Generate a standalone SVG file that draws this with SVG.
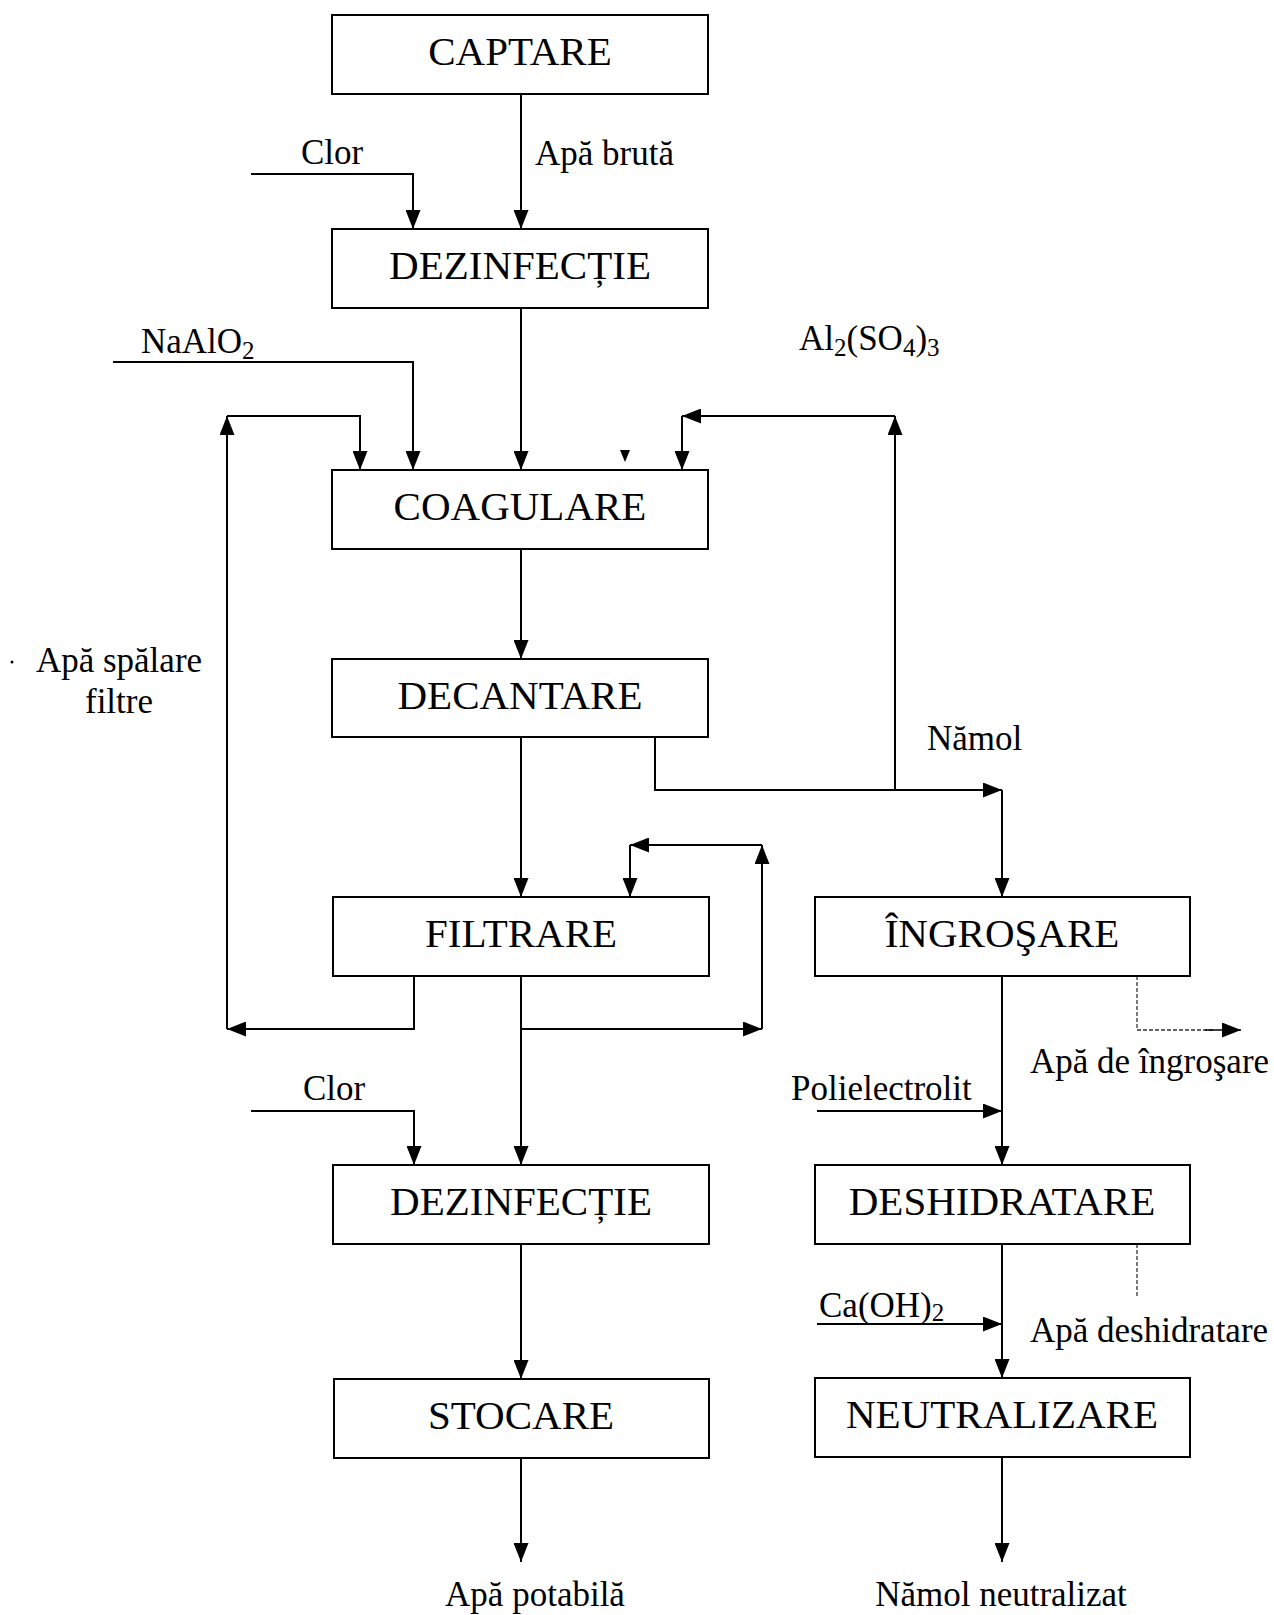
<svg xmlns="http://www.w3.org/2000/svg" width="1274" height="1615" viewBox="0 0 1274 1615">
<defs>
<marker id="ah" markerUnits="userSpaceOnUse" markerWidth="19" markerHeight="15" refX="19" refY="7.5" orient="auto">
<path d="M0,0 L19,7.5 L0,15 z" fill="#000"/>
</marker>
<style>
.box{fill:#fff;stroke:#000;stroke-width:2}
.nt{font-family:"Liberation Serif","Times New Roman",serif;font-size:41px;text-anchor:middle;fill:#000}
.lt{font-family:"Liberation Serif","Times New Roman",serif;font-size:35px;fill:#000}
.c{fill:none;stroke:#000;stroke-width:2}
.a{marker-end:url(#ah)}
.d{fill:none;stroke:#333;stroke-width:1.3;stroke-dasharray:4,2}
</style>
</defs>
<rect width="1274" height="1615" fill="#fff"/>
<g id="connectors">
<line class="c a" x1="521" y1="94" x2="521" y2="229"/>
<polyline class="c a" points="251,174 413,174 413,229"/>
<line class="c a" x1="521" y1="308" x2="521" y2="470"/>
<polyline class="c a" points="113,362 413,362 413,470"/>
<polyline class="c a" points="414,976 414,1029 227,1029"/>
<line class="c a" x1="227" y1="1029" x2="227" y2="416"/>
<polyline class="c a" points="227,416 360,416 360,470"/>
<line class="c a" x1="521" y1="549" x2="521" y2="659"/>
<line class="c a" x1="521" y1="737" x2="521" y2="897"/>
<polyline class="c a" points="655,737 655,790 1002,790"/>
<line class="c a" x1="1002" y1="790" x2="1002" y2="897"/>
<line class="c a" x1="895" y1="790" x2="895" y2="416"/>
<line class="c a" x1="895" y1="416" x2="682" y2="416"/>
<line class="c a" x1="682" y1="416" x2="682" y2="470"/>
<polygon points="620,450 630,450 625,462" fill="#000"/>
<line class="c a" x1="521" y1="1029" x2="762" y2="1029"/>
<line class="c a" x1="762" y1="1029" x2="762" y2="845"/>
<line class="c a" x1="762" y1="845" x2="630" y2="845"/>
<line class="c a" x1="630" y1="845" x2="630" y2="897"/>
<line class="c a" x1="521" y1="976" x2="521" y2="1165"/>
<polyline class="c a" points="251,1111 414,1111 414,1165"/>
<line class="c a" x1="521" y1="1244" x2="521" y2="1379"/>
<line class="c a" x1="521" y1="1458" x2="521" y2="1562"/>
<line class="c a" x1="1002" y1="976" x2="1002" y2="1165"/>
<line class="c a" x1="817" y1="1111" x2="1002" y2="1111"/>
<line class="c a" x1="1002" y1="1244" x2="1002" y2="1378"/>
<line class="c a" x1="817" y1="1324" x2="1002" y2="1324"/>
<line class="c a" x1="1002" y1="1457" x2="1002" y2="1562"/>
<polyline class="d" points="1137,976 1137,1030 1215,1030"/>
<line class="c a" x1="1205" y1="1030" x2="1241" y2="1030" style="stroke-width:1.3"/>
<line class="d" x1="1137" y1="1244" x2="1137" y2="1296"/>
</g>
<g id="labels">
<text class="lt" x="301" y="164">Clor</text>
<text class="lt" x="535" y="165">Apă brută</text>
<text class="lt" x="141" y="353">NaAlO<tspan font-size="25" dy="6">2</tspan></text>
<text class="lt" x="799" y="350">Al<tspan font-size="25" dy="6">2</tspan><tspan dy="-6">(SO</tspan><tspan font-size="25" dy="6">4</tspan><tspan dy="-6">)</tspan><tspan font-size="25" dy="6">3</tspan></text>
<circle cx="12" cy="662" r="1.5" fill="#000"/>
<text class="lt" x="119" y="672" text-anchor="middle">Apă spălare</text>
<text class="lt" x="119" y="713" text-anchor="middle">filtre</text>
<text class="lt" x="927" y="750">Nămol</text>
<text class="lt" x="1030" y="1073">Apă de îngroşare</text>
<text class="lt" x="303" y="1100">Clor</text>
<text class="lt" x="791" y="1100">Polielectrolit</text>
<text class="lt" x="819" y="1317">Ca(OH)<tspan font-size="25" dy="4">2</tspan></text>
<text class="lt" x="1030" y="1342">Apă deshidratare</text>
<text class="lt" x="535" y="1606" text-anchor="middle">Apă potabilă</text>
<text class="lt" x="1001" y="1606" text-anchor="middle">Nămol neutralizat</text>
</g>
<g id="node-captare"><rect class="box" x="332" y="15" width="376" height="79"/><text class="nt" x="520" y="65">CAPTARE</text></g>
<g id="node-dezinfectie1"><rect class="box" x="332" y="229" width="376" height="79"/><text class="nt" x="520" y="279">DEZINFECȚIE</text></g>
<g id="node-coagulare"><rect class="box" x="332" y="470" width="376" height="79"/><text class="nt" x="520" y="520">COAGULARE</text></g>
<g id="node-decantare"><rect class="box" x="332" y="659" width="376" height="78"/><text class="nt" x="520" y="709">DECANTARE</text></g>
<g id="node-filtrare"><rect class="box" x="333" y="897" width="376" height="79"/><text class="nt" x="521" y="947">FILTRARE</text></g>
<g id="node-dezinfectie2"><rect class="box" x="333" y="1165" width="376" height="79"/><text class="nt" x="521" y="1215">DEZINFECȚIE</text></g>
<g id="node-stocare"><rect class="box" x="334" y="1379" width="375" height="79"/><text class="nt" x="521" y="1429">STOCARE</text></g>
<g id="node-ingrosare"><rect class="box" x="815" y="897" width="375" height="79"/><text class="nt" x="1002" y="947">ÎNGROŞARE</text></g>
<g id="node-deshidratare"><rect class="box" x="815" y="1165" width="375" height="79"/><text class="nt" x="1002" y="1215">DESHIDRATARE</text></g>
<g id="node-neutralizare"><rect class="box" x="815" y="1378" width="375" height="79"/><text class="nt" x="1002" y="1428">NEUTRALIZARE</text></g>
</svg>
